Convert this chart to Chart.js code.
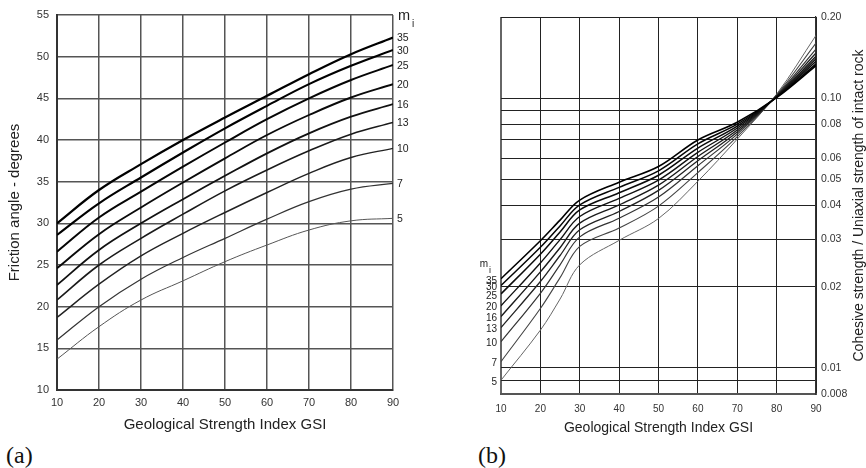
<!DOCTYPE html>
<html>
<head>
<meta charset="utf-8">
<title>Friction angle and cohesive strength vs GSI</title>
<script src="https://cdn.jsdelivr.net/npm/chart.js@4.4.1/dist/chart.umd.min.js"></script>
<style>
    body { margin: 0; background: #fff; width: 866px; height: 468px; position: relative; overflow: hidden; }
    canvas { position: absolute; top: 0; }
    #chartA { left: 0; }
    #chartB { left: 430px; }
    .panel-tag { position: absolute; font-family: "Liberation Serif", "Times New Roman", serif; font-size: 24px; line-height: 1; color: #111; }
</style>
</head>
<body>
<canvas id="chartA" width="430" height="440"></canvas>
<canvas id="chartB" width="436" height="440"></canvas>
<div class="panel-tag" style="left:6px; top:443px">(a)</div>
<div class="panel-tag" style="left:478px; top:443px">(b)</div>
<script>
// Geological Strength Index (x axis of both panels)
const gsiA = [10, 20, 30, 40, 50, 60, 70, 80, 90];
const gsiB = [10, 20, 25, 30, 40, 50, 60, 70, 80, 90];
const miValues = [35, 30, 25, 20, 16, 13, 10, 7, 5];

// (a) Friction angle in degrees, one array per mi
const phi35 = [30.0, 34.0, 37.1, 40.0, 42.7, 45.3, 47.9, 50.3, 52.3];
const phi30 = [28.6, 32.4, 35.5, 38.5, 41.4, 44.1, 46.7, 48.9, 50.8];
const phi25 = [26.6, 30.7, 33.8, 36.8, 39.7, 42.5, 45.0, 47.2, 49.0];
const phi20 = [24.6, 28.7, 31.9, 34.9, 37.8, 40.6, 43.0, 45.1, 46.7];
const phi16 = [22.6, 26.8, 30.0, 32.9, 35.7, 38.4, 40.8, 42.8, 44.3];
const phi13 = [20.8, 25.0, 28.2, 31.1, 33.9, 36.4, 38.7, 40.7, 42.1];
const phi10 = [18.7, 22.7, 26.1, 28.8, 31.3, 33.7, 36.0, 37.9, 39.0];
const phi7 = [16.0, 20.0, 23.3, 25.9, 28.2, 30.5, 32.6, 34.1, 34.8];
const phi5 = [13.7, 17.6, 20.8, 23.1, 25.4, 27.4, 29.2, 30.3, 30.6];
const frictionSeries = [phi35, phi30, phi25, phi20, phi16, phi13, phi10, phi7, phi5];

// (b) Cohesive strength / uniaxial strength of intact rock, one array per mi
const coh35 = [0.0214, 0.0296, 0.0353, 0.0419, 0.0488, 0.0558, 0.0700, 0.0814, 0.1005, 0.132];
const coh30 = [0.0202, 0.0280, 0.0336, 0.0402, 0.0467, 0.0538, 0.0677, 0.0801, 0.1008, 0.134];
const coh25 = [0.0188, 0.0264, 0.0319, 0.0385, 0.0446, 0.0518, 0.0653, 0.0788, 0.1010, 0.137];
const coh20 = [0.0170, 0.0245, 0.0299, 0.0364, 0.0425, 0.0497, 0.0630, 0.0775, 0.1012, 0.140];
const coh16 = [0.0155, 0.0227, 0.0279, 0.0344, 0.0402, 0.0476, 0.0608, 0.0762, 0.1015, 0.143];
const coh13 = [0.0141, 0.0209, 0.0261, 0.0325, 0.0380, 0.0455, 0.0586, 0.0749, 0.1018, 0.147];
const coh10 = [0.0125, 0.0189, 0.0241, 0.0306, 0.0359, 0.0430, 0.0562, 0.0736, 0.1022, 0.152];
const coh7 = [0.01055, 0.0166, 0.0216, 0.0282, 0.0330, 0.0398, 0.0530, 0.0720, 0.1028, 0.160];
const coh5 = [0.0090, 0.0138, 0.0180, 0.0241, 0.0297, 0.0358, 0.0492, 0.0705, 0.1035, 0.171];
const cohesionSeries = [coh35, coh30, coh25, coh20, coh16, coh13, coh10, coh7, coh5];

// Log axis of panel (b): grid values and their printed labels
const yTicksB = [0.008, 0.009, 0.01, 0.02, 0.03, 0.04, 0.05, 0.06, 0.07, 0.08, 0.09, 0.10, 0.20];
const yTickTextB = ['0.008', '', '0.01', '0.02', '0.03', '0.04', '0.05', '0.06', '', '0.08', '', '0.10', '0.20'];

const fontFamily = '"Liberation Sans", Arial, Helvetica, sans-serif';

// Heavier, darker lines for the high mi curves
const lineColorsA = ['#000', '#000', '#050505', '#0a0a0a', '#111', '#1a1a1a', '#222', '#333', '#555'];
const lineWidthsA = [2.2, 2.1, 2.0, 1.9, 1.8, 1.6, 1.4, 1.2, 1.0];
const lineColorsB = ['#000', '#050505', '#0a0a0a', '#111', '#1a1a1a', '#222', '#333', '#444', '#666'];
const lineWidthsB = [1.6, 1.5, 1.5, 1.4, 1.4, 1.3, 1.2, 1.1, 1.0];

function buildDatasets(xs, series, colors, widths, tension) {
    return miValues.map((m, i) => ({
        label: 'mi = ' + m,
        data: xs.map((g, j) => ({ x: g, y: series[i][j] })),
        borderColor: colors[i],
        borderWidth: widths[i],
        pointRadius: 0,
        tension: tension,
        fill: false
    }));
}

// mi labels at the right ends of the curves in panel (a)
const miLabelsA = {
    id: 'miLabelsA',
    afterDraw(chart) {
        const { ctx, chartArea, scales: { y } } = chart;
        ctx.save();
        ctx.fillStyle = '#222';
        ctx.textAlign = 'left';
        ctx.textBaseline = 'middle';
        ctx.font = '10.5px ' + fontFamily;
        frictionSeries.forEach((arr, i) => {
            const py = y.getPixelForValue(arr[arr.length - 1]) + 1;
            ctx.fillText(String(miValues[i]), chartArea.right + 4, py);
        });
        ctx.textBaseline = 'alphabetic';
        ctx.font = '14.5px ' + fontFamily;
        ctx.fillText('m', chartArea.right + 5, chartArea.top + 5);
        ctx.font = '10px ' + fontFamily;
        ctx.fillText('i', chartArea.right + 19, chartArea.top + 12);
        ctx.restore();
    }
};

// mi labels at the left starts of the curves in panel (b), plus the right-hand axis title
const miLabelsB = {
    id: 'miLabelsB',
    afterDraw(chart) {
        const { ctx, chartArea, scales: { y } } = chart;
        ctx.save();
        ctx.fillStyle = '#222';
        ctx.textAlign = 'right';
        ctx.textBaseline = 'middle';
        ctx.font = '10px ' + fontFamily;
        let topLabel = null;
        cohesionSeries.forEach((arr, i) => {
            const py = y.getPixelForValue(arr[0]) + 2;
            if (topLabel === null) topLabel = py;
            ctx.fillText(String(miValues[i]), chartArea.left - 4, py);
        });
        ctx.textBaseline = 'alphabetic';
        ctx.font = '10px ' + fontFamily;
        ctx.fillText('m', chartArea.left - 13, topLabel - 14);
        ctx.textAlign = 'left';
        ctx.font = '9px ' + fontFamily;
        ctx.fillText('i', chartArea.left - 12, topLabel - 8);

        // Axis title reads bottom to top on the right side
        ctx.translate(chart.width - 7, (chartArea.top + chartArea.bottom) / 2);
        ctx.rotate(-Math.PI / 2);
        ctx.textAlign = 'center';
        ctx.textBaseline = 'middle';
        ctx.font = '14px ' + fontFamily;
        ctx.fillText('Cohesive strength / Uniaxial strength of intact rock', 0, 0);
        ctx.restore();
    }
};

// Panel (a): friction angle
new Chart(document.getElementById('chartA'), {
    type: 'line',
    data: { datasets: buildDatasets(gsiA, frictionSeries, lineColorsA, lineWidthsA, 0.4) },
    options: {
        responsive: false,
        animation: false,
        devicePixelRatio: 1,
        layout: { padding: { top: 15, right: 37, bottom: 0, left: 0 } },
        plugins: { legend: { display: false }, tooltip: { enabled: false } },
        scales: {
            x: {
                type: 'linear', min: 10, max: 90,
                ticks: { stepSize: 10, padding: 6, color: '#333', maxRotation: 0, font: { family: fontFamily, size: 11 } },
                grid: { color: '#555', lineWidth: 1.5, drawTicks: false },
                border: { color: '#333', width: 2 },
                title: { display: true, text: 'Geological Strength Index GSI', color: '#222', font: { family: fontFamily, size: 15 }, padding: { top: 0, bottom: 6 } },
                afterFit: (scale) => { scale.height = 50; }
            },
            y: {
                type: 'linear', min: 10, max: 55,
                ticks: { stepSize: 5, padding: 8, color: '#333', font: { family: fontFamily, size: 11 } },
                grid: { color: '#555', lineWidth: 1.5, drawTicks: false },
                border: { color: '#333', width: 2 },
                title: { display: true, text: 'Friction angle - degrees', color: '#222', font: { family: fontFamily, size: 15 }, padding: { top: 6, bottom: 0 } },
                afterFit: (scale) => { scale.width = 57; }
            }
        }
    },
    plugins: [miLabelsA]
});

// Panel (b): cohesive strength ratio on a log axis
new Chart(document.getElementById('chartB'), {
    type: 'line',
    data: { datasets: buildDatasets(gsiB, cohesionSeries, lineColorsB, lineWidthsB, 0.35) },
    options: {
        responsive: false,
        animation: false,
        devicePixelRatio: 1,
        layout: { padding: { top: 17, right: 0, bottom: 0, left: 71 } },
        plugins: { legend: { display: false }, tooltip: { enabled: false } },
        scales: {
            x: {
                type: 'linear', min: 10, max: 90,
                ticks: { stepSize: 10, padding: 9, color: '#333', maxRotation: 0, font: { family: fontFamily, size: 10 } },
                grid: {
                    color: (ctx) => ctx.index === 0 ? '#666' : '#222',
                    lineWidth: (ctx) => ctx.index === 0 ? 2 : 1,
                    drawTicks: false
                },
                border: { color: '#555', width: 2 },
                title: { display: true, text: 'Geological Strength Index GSI', color: '#222', font: { family: fontFamily, size: 14 }, padding: { top: 0, bottom: 3 } },
                afterFit: (scale) => { scale.height = 46; }
            },
            y: {
                type: 'logarithmic', position: 'right', min: 0.008, max: 0.2,
                afterBuildTicks: (scale) => { scale.ticks = yTicksB.map(v => ({ value: v })); },
                ticks: {
                    autoSkip: false, padding: 5, color: '#333', font: { family: fontFamily, size: 10.5 },
                    callback: (value, index) => yTickTextB[index]
                },
                grid: { color: '#222', lineWidth: 1, drawTicks: false },
                border: { color: '#333', width: 1.2 },
                afterFit: (scale) => { scale.width = 50; }
            }
        }
    },
    plugins: [miLabelsB]
});
</script>
</body>
</html>
